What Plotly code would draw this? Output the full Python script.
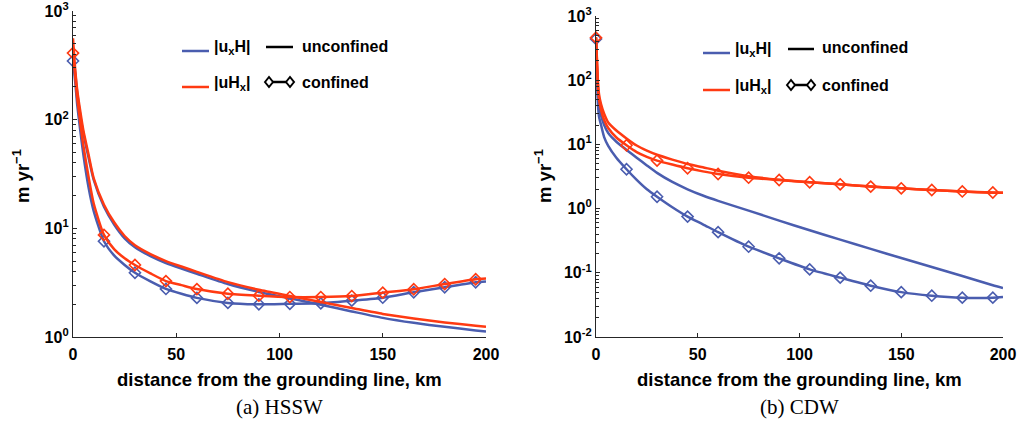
import plotly.graph_objects as go

# ---------------- data ----------------
# (a) HSSW
x_hssw = [0, 1, 2, 3.5, 5, 7.5, 10, 15, 20, 25, 30, 37.5, 45, 52.5, 60, 75, 90,
          105, 120, 135, 150, 165, 180, 195, 200]
hssw_uxH_unconf = [380, 280, 180, 110, 75, 45, 28, 15.8, 10.8, 8.1, 6.7, 5.55, 4.8, 4.27, 3.82,
                   3.07, 2.6, 2.27, 1.98, 1.72, 1.5, 1.35, 1.24, 1.15, 1.125]
hssw_uHx_unconf = [560, 300, 190, 120, 80, 48, 29, 16.5, 11.3, 8.5, 7.0, 5.8, 5.0, 4.45, 3.98,
                   3.2, 2.72, 2.39, 2.1, 1.85, 1.63, 1.48, 1.36, 1.27, 1.24]
hssw_uxH_conf = [347, 230, 140, 80, 48, 24, 14.5, 7.6, 5.6, 4.6, 3.9, 3.25, 2.77, 2.5, 2.29,
                 2.06, 2.0, 2.02, 2.04, 2.16, 2.3, 2.58, 2.87, 3.19, 3.25]
hssw_uHx_conf = [410, 260, 160, 95, 58, 30, 17, 8.7, 6.4, 5.3, 4.6, 3.85, 3.27, 3.0, 2.76,
                 2.5, 2.4, 2.33, 2.33, 2.38, 2.56, 2.75, 3.07, 3.40, 3.45]

# (b) CDW
x_cdw = [0, 0.5, 1, 1.5, 2.5, 4, 6, 10, 15, 20, 25, 30, 37.5, 45, 52.5, 60, 75, 90,
         105, 120, 135, 150, 165, 180, 195, 200]
cdw_uxH_unconf = [450, 130, 55, 38, 28, 20, 15, 11.0, 8.2, 6.2, 4.7, 3.6, 2.6, 2.0, 1.6,
                  1.32, 0.93, 0.65, 0.46, 0.328, 0.236, 0.17, 0.123, 0.089, 0.064, 0.058]
cdw_uHx_unconf = [470, 200, 90, 60, 42, 30, 22, 16.5, 12.4, 9.6, 8.0, 6.9, 5.8, 4.95, 4.4,
                  3.9, 3.2, 2.82, 2.58, 2.4, 2.2, 2.07, 1.95, 1.84, 1.77, 1.76]
cdw_uxH_conf = [440, 120, 40, 27, 20, 13, 9.5, 6.2, 4.1, 2.8, 2.0, 1.53, 1.05, 0.75, 0.57,
                0.43, 0.255, 0.168, 0.113, 0.084, 0.063, 0.050, 0.044, 0.041, 0.041, 0.042]
cdw_uHx_conf = [460, 180, 75, 50, 34, 24, 18, 12.8, 9.7, 7.6, 6.4, 5.6, 4.85, 4.25, 3.8,
                3.46, 3.03, 2.79, 2.57, 2.39, 2.2, 2.07, 1.95, 1.85, 1.78, 1.77]

marker_every_km = 15

x_tickvals = [0, 50, 100, 150, 200]
hssw_ytickvals = [1, 10, 100, 1000]
hssw_yticktext = ["10<sup>0</sup>", "10<sup>1</sup>", "10<sup>2</sup>", "10<sup>3</sup>"]
cdw_ytickvals = [0.01, 0.1, 1, 10, 100, 1000]
cdw_yticktext = ["10<sup>-2</sup>", "10<sup>-1</sup>", "10<sup>0</sup>",
                 "10<sup>1</sup>", "10<sup>2</sup>", "10<sup>3</sup>"]

legend_labels = ["|u<sub>x</sub>H|", "|uH<sub>x</sub>|"]
style_labels = ["unconfined", "confined"]
xtitle = "distance from the grounding line, km"
ytitle = "m yr<sup>\u22121</sup>"
captions = ["(a) HSSW", "(b) CDW"]

# ---------------- style ----------------
W, H = 1019, 424
BLUE = "#4a5daf"
RED = "#ff3a12"
AXC = "#262626"
SANS = "Liberation Sans, Arial, sans-serif"
SERIF = "Liberation Serif, Times New Roman, serif"


def px(x):
    return x / W


def py(y):
    return 1 - y / H


fig = go.Figure()


def add_panel(xs, series, xa, ya):
    for vals, color, confined in series:
        fig.add_trace(go.Scatter(
            x=xs, y=vals, mode="lines", xaxis=xa, yaxis=ya,
            line=dict(color=color, width=2.5, shape="spline", smoothing=0.6),
            hoverinfo="skip", showlegend=False))
        if confined:
            mx = [x for x in xs if x % marker_every_km == 0 and x < 200]
            my = [v for x, v in zip(xs, vals) if x % marker_every_km == 0 and x < 200]
            fig.add_trace(go.Scatter(
                x=mx, y=my, mode="markers", xaxis=xa, yaxis=ya, cliponaxis=False,
                marker=dict(symbol="diamond-open", size=8.5, color=color,
                            line=dict(color=color, width=1.6)),
                hoverinfo="skip", showlegend=False))


add_panel(x_hssw, [(hssw_uxH_unconf, BLUE, False), (hssw_uxH_conf, BLUE, True),
                   (hssw_uHx_unconf, RED, False), (hssw_uHx_conf, RED, True)], "x", "y")
add_panel(x_cdw, [(cdw_uxH_unconf, BLUE, False), (cdw_uxH_conf, BLUE, True),
                  (cdw_uHx_unconf, RED, False), (cdw_uHx_conf, RED, True)], "x2", "y2")

tickfont = dict(family=SANS, size=16, color="black", weight="bold")
xbase = dict(range=[0, 200], tickvals=x_tickvals, showline=True, linecolor=AXC, linewidth=1.3,
             ticks="inside", ticklen=4, tickwidth=1, tickcolor=AXC, showgrid=False,
             zeroline=False, tickfont=tickfont, ticklabelstandoff=3, automargin=False,
             ticklabeloverflow="allow")
ybase = dict(type="log", showline=True, linecolor=AXC, linewidth=1.3, ticks="inside",
             ticklen=4, tickwidth=1, tickcolor=AXC, showgrid=False, zeroline=False,
             tickfont=tickfont, automargin=False, ticklabeloverflow="allow",
             minor=dict(ticks="inside", ticklen=2.5, tickwidth=0.8, tickcolor=AXC,
                        dtick="D1", showgrid=False))

panels = [
    dict(x0=73, x1=486, y0=11, y1=337),
    dict(x0=596, x1=1003, y0=16, y1=337),
]

fig.update_layout(
    width=W, height=H, autosize=False,
    margin=dict(l=0, r=0, t=0, b=0, pad=0, autoexpand=False),
    paper_bgcolor="white", plot_bgcolor="white", showlegend=False,
    xaxis=dict(xbase, domain=[px(73), px(486)], anchor="y"),
    yaxis=dict(ybase, domain=[py(337), py(11)], anchor="x", range=[0, 3],
               tickvals=hssw_ytickvals, ticktext=hssw_yticktext),
    xaxis2=dict(xbase, domain=[px(596), px(1003)], anchor="y2"),
    yaxis2=dict(ybase, domain=[py(337), py(16)], anchor="x2", range=[-2, 3],
                tickvals=cdw_ytickvals, ticktext=cdw_yticktext),
)

annotations = []
shapes = []
labfont = dict(family=SANS, size=16, color="black", weight="bold")
titfont = dict(family=SANS, size=18.5, color="black", weight="bold")

legend_pos = [
    dict(cx0=182, cx1=209, ctext=212, sx0=266, sx1=293, stext=300, y1=47, y2=83),
    dict(cx0=703, cx1=730, ctext=733, sx0=788, sx1=814, stext=820, y1=49, y2=86),
]
for lp in legend_pos:
    for i, (col, lab) in enumerate(zip([BLUE, RED], legend_labels)):
        yy = lp["y1"] if i == 0 else lp["y2"]
        shapes.append(dict(type="line", xref="paper", yref="paper",
                           x0=px(lp["cx0"]), x1=px(lp["cx1"]),
                           y0=py(yy + 4), y1=py(yy + 4), line=dict(color=col, width=2.5)))
        annotations.append(dict(text=lab, xref="paper", yref="paper", x=px(lp["ctext"]),
                                y=py(yy), xanchor="left", yanchor="middle", showarrow=False,
                                font=labfont))
    shapes.append(dict(type="line", xref="paper", yref="paper",
                       x0=px(lp["sx0"]), x1=px(lp["sx1"]),
                       y0=py(lp["y1"]), y1=py(lp["y1"]), line=dict(color="black", width=2.5)))
    shapes.append(dict(type="line", xref="paper", yref="paper",
                       x0=px(lp["sx0"] + 3), x1=px(lp["sx1"] - 3),
                       y0=py(lp["y2"] - 1), y1=py(lp["y2"] - 1),
                       line=dict(color="black", width=2.5)))
    for xx in (lp["sx0"] + 3, lp["sx1"] - 3):
        shapes.append(dict(type="path", xref="paper", yref="paper",
                           xsizemode="pixel", ysizemode="pixel",
                           xanchor=px(xx), yanchor=py(lp["y2"] - 1),
                           path="M -4,0 L 0,5 L 4,0 L 0,-5 Z",
                           line=dict(color="black", width=2), fillcolor="white"))
    for i, lab in enumerate(style_labels):
        yy = lp["y1"] if i == 0 else lp["y2"]
        annotations.append(dict(text=lab, xref="paper", yref="paper", x=px(lp["stext"]),
                                y=py(yy - 1), xanchor="left", yanchor="middle",
                                showarrow=False, font=labfont))

for p, cap in zip(panels, captions):
    xc = (p["x0"] + p["x1"]) / 2
    annotations.append(dict(text=xtitle, xref="paper", yref="paper", x=px(xc), y=py(379),
                            xanchor="center", yanchor="middle", showarrow=False,
                            font=titfont))
    annotations.append(dict(text=cap, xref="paper", yref="paper", x=px(xc), y=py(407),
                            xanchor="center", yanchor="middle", showarrow=False,
                            font=dict(family=SERIF, size=21, color="black")))
annotations.append(dict(text=ytitle, xref="paper", yref="paper", x=px(21), y=py(176),
                        textangle=-90, xanchor="center", yanchor="middle", showarrow=False,
                        font=titfont))
annotations.append(dict(text=ytitle, xref="paper", yref="paper", x=px(543), y=py(176),
                        textangle=-90, xanchor="center", yanchor="middle", showarrow=False,
                        font=titfont))

fig.update_layout(annotations=annotations, shapes=shapes)
fig.write_html("out.html")
